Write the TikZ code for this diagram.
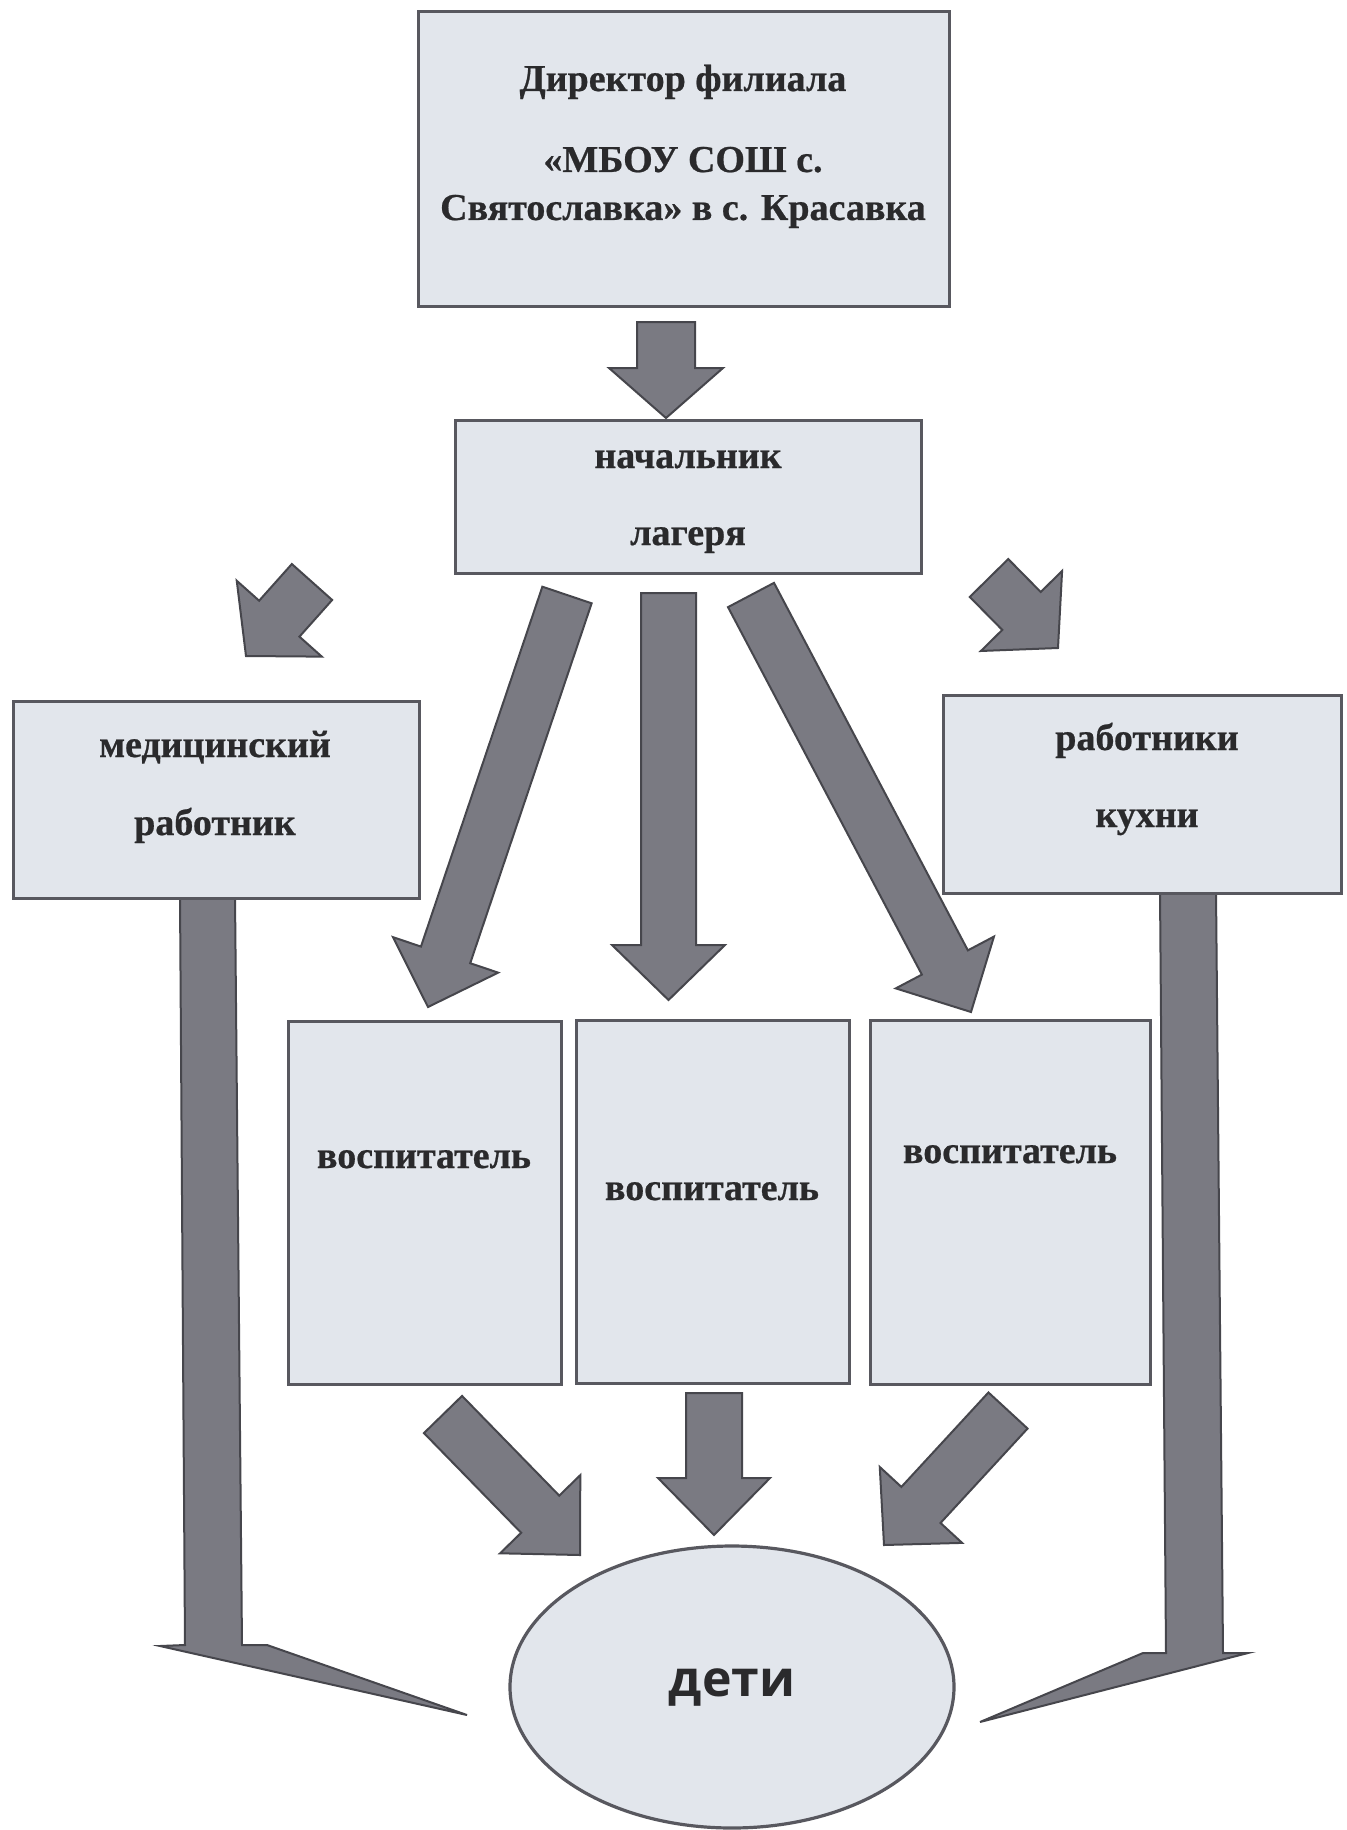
\documentclass[tikz,border=0pt]{standalone}
\usepackage{fontspec}
\setmainfont{Liberation Serif}[BoldFeatures={FakeBold=0.6}]
\newfontfamily\detifont{Open Sans}
\usetikzlibrary{calc,shapes.geometric}
\definecolor{boxfill}{HTML}{E2E6EC}
\definecolor{boxline}{HTML}{58585F}
\definecolor{arrfill}{HTML}{7A7A82}
\definecolor{arrline}{HTML}{46464C}
\definecolor{txtcol}{HTML}{2A2A2C}
\tikzset{
  box/.style={rectangle, draw=boxline, fill=boxfill, line width=1.6pt, inner sep=0pt, anchor=north west},
  txt/.style={font=\fontsize{19}{23}\selectfont\bfseries, text=txtcol, inner sep=0pt, anchor=base},
  arrowshape/.style={fill=arrfill, draw=arrline, line width=1pt, line join=miter},
}
% #1 tail, #2 tip, #3 half shaft, #4 half head, #5 head length
\newcommand{\fatarr}[5]{%
  \coordinate (fa-b) at ($(#2)!#5!(#1)$);
  \filldraw[arrowshape]
    ($(#1)!#3!90:(#2)$) -- ($(fa-b)!#3!90:(#2)$) -- ($(fa-b)!#4!90:(#2)$) -- (#2)
    -- ($(fa-b)!#4!-90:(#2)$) -- ($(fa-b)!#3!-90:(#2)$) -- ($(#1)!#3!-90:(#2)$) -- cycle;
}
\begin{document}
\begin{tikzpicture}[x=0.5pt,y=-0.5pt]
\fill[white] (0,0) rectangle (1346,1830);
\useasboundingbox (0,0) rectangle (1346,1830);

% pillars with feet
\filldraw[arrowshape] (180,896) -- (185,1645) -- (160,1646) -- (467,1715) -- (267,1645) -- (242,1645) -- (235,896) -- cycle;
\filldraw[arrowshape] (1160,891) -- (1166,1653) -- (1143,1653) -- (980,1722) -- (1248,1653) -- (1223,1653) -- (1216,891) -- cycle;

% boxes
\node[box, minimum width=265.5pt, minimum height=147.5pt] (dir) at (417,10) {};
\node[box, minimum width=233pt, minimum height=76.5pt] (nach) at (454,419) {};
\node[box, minimum width=203pt, minimum height=98.5pt] (med) at (12,700) {};
\node[box, minimum width=199pt, minimum height=99pt] (kitch) at (942,694) {};
\node[box, minimum width=136.5pt, minimum height=181.5pt] (v1) at (287,1020) {};
\node[box, minimum width=136.5pt, minimum height=181.5pt] (v2) at (575,1019) {};
\node[box, minimum width=140pt, minimum height=182pt] (v3) at (869,1019) {};
\node[ellipse, draw=boxline, fill=boxfill, line width=1.6pt, inner sep=0pt,
      minimum width=222pt, minimum height=141pt,
      font=\detifont\bfseries\fontsize{25}{30}\selectfont, text=txtcol] (deti) at (732,1687) {дети};

% texts
\node[txt] (dirA) at (683,91) {Директор филиала};
\node[txt] (dirB) at (683,172) {«МБОУ СОШ с.};
\node[txt] (dirC) at (683,220) {Святославка» в с. Красавка};
\node[txt] (nachA) at (688,468) {начальник};
\node[txt] (nachB) at (688,545) {лагеря};
\node[txt] (medA) at (215,757) {медицинский};
\node[txt] (medB) at (215,835) {работник};
\node[txt] (kitA) at (1147,750) {работники};
\node[txt] (kitB) at (1147,827) {кухни};
\node[txt] (v1t) at (424,1168) {воспитатель};
\node[txt] (v2t) at (712,1200) {воспитатель};
\node[txt] (v3t) at (1010,1163) {воспитатель};

% arrow end points
\coordinate (aTopS) at (666,322);   \coordinate (aTopE) at (666,418);
\coordinate (aMedS) at (312,582);   \coordinate (aMedE) at (246,656);
\coordinate (aKitS) at (989,578);   \coordinate (aKitE) at (1058,648);
\coordinate (aV1S) at (567,595);    \coordinate (aV1E) at (428,1007);
\coordinate (aV2S) at (668.5,593);  \coordinate (aV2E) at (668.5,1000);
\coordinate (aV3S) at (751,595);    \coordinate (aV3E) at (971,1012);
\coordinate (aD1S) at (443,1414.5); \coordinate (aD1E) at (580,1555);
\coordinate (aD2S) at (714,1393);   \coordinate (aD2E) at (714,1535);
\coordinate (aD3S) at (1008,1410.5);\coordinate (aD3E) at (884,1545);

\fatarr{aTopS}{aTopE}{14.5pt}{28.5pt}{25pt}
\fatarr{aMedS}{aMedE}{13.5pt}{28.5pt}{25pt}
\fatarr{aKitS}{aKitE}{13.5pt}{28.5pt}{26pt}
\fatarr{aV1S}{aV1E}{13pt}{27.75pt}{27.5pt}
\fatarr{aV2S}{aV2E}{13.75pt}{28.25pt}{27.5pt}
\fatarr{aV3S}{aV3E}{13pt}{27.75pt}{28pt}
\fatarr{aD1S}{aD1E}{13.3pt}{28pt}{28.5pt}
\fatarr{aD2S}{aD2E}{14pt}{28pt}{28.5pt}
\fatarr{aD3S}{aD3E}{13.3pt}{28pt}{27.25pt}
\end{tikzpicture}
\end{document}
